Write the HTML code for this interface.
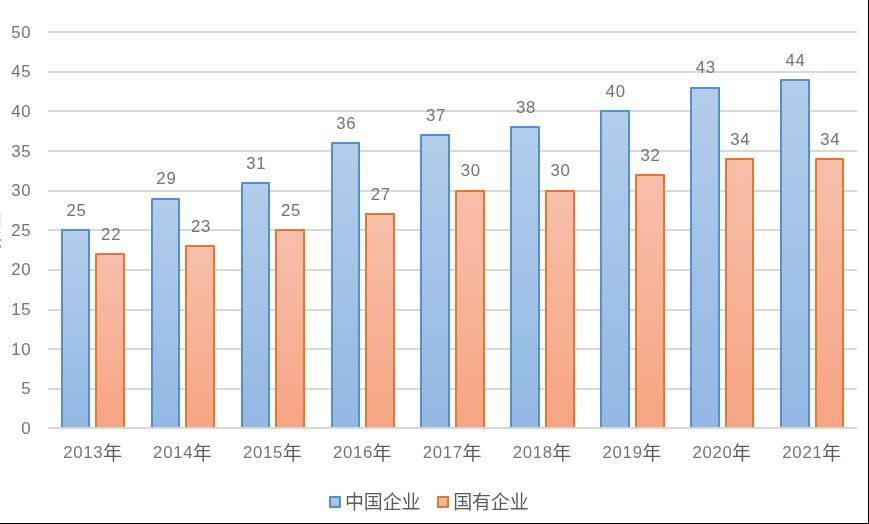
<!DOCTYPE html>
<html><head><meta charset="utf-8"><title>chart</title>
<style>
html,body{margin:0;padding:0;background:#fff;}
body{width:869px;height:524px;overflow:hidden;position:relative;}
svg{position:absolute;left:0;top:0;display:block;will-change:transform;}
text{font-family:"Liberation Sans",sans-serif;font-size:16.8px;fill:#737373;letter-spacing:0.7px;}
text.cjk{font-family:"Liberation Sans","Noto Sans CJK SC",sans-serif;font-size:19px;fill:#5c5c5c;letter-spacing:0;}
</style></head><body>
<svg width="869" height="524" viewBox="0 0 869 524">
<defs>
<linearGradient id="gb" x1="0" y1="0" x2="0" y2="1"><stop offset="0" stop-color="#b3cdea"/><stop offset="1" stop-color="#92b8e4"/></linearGradient>
<linearGradient id="go" x1="0" y1="0" x2="0" y2="1"><stop offset="0" stop-color="#f7bfab"/><stop offset="1" stop-color="#f6a582"/></linearGradient>
<linearGradient id="gb2" x1="0" y1="0" x2="0" y2="1"><stop offset="0" stop-color="#b0cbe9"/><stop offset="1" stop-color="#9dbfe6"/></linearGradient>
<linearGradient id="go2" x1="0" y1="0" x2="0" y2="1"><stop offset="0" stop-color="#f7bda8"/><stop offset="1" stop-color="#f6ad8e"/></linearGradient>
</defs>
<rect x="0" y="0" width="869" height="524" fill="#ffffff"/>
<rect x="48" y="388" width="809" height="2" fill="#d9d9d9"/>
<rect x="48" y="348" width="809" height="2" fill="#d9d9d9"/>
<rect x="48" y="309" width="809" height="2" fill="#d9d9d9"/>
<rect x="48" y="269" width="809" height="2" fill="#d9d9d9"/>
<rect x="48" y="229" width="809" height="2" fill="#d9d9d9"/>
<rect x="48" y="190" width="809" height="2" fill="#d9d9d9"/>
<rect x="48" y="150" width="809" height="2" fill="#d9d9d9"/>
<rect x="48" y="110" width="809" height="2" fill="#d9d9d9"/>
<rect x="48" y="71" width="809" height="2" fill="#d9d9d9"/>
<rect x="48" y="31" width="809" height="2" fill="#d9d9d9"/>
<rect x="62" y="230" width="27" height="198" fill="url(#gb)" stroke="#5291cf" stroke-width="2" stroke-linejoin="round"/>
<rect x="96" y="254" width="28" height="174" fill="url(#go)" stroke="#e9762a" stroke-width="2" stroke-linejoin="round"/>
<rect x="152" y="199" width="27" height="229" fill="url(#gb)" stroke="#5291cf" stroke-width="2" stroke-linejoin="round"/>
<rect x="186" y="246" width="28" height="182" fill="url(#go)" stroke="#e9762a" stroke-width="2" stroke-linejoin="round"/>
<rect x="242" y="183" width="27" height="245" fill="url(#gb)" stroke="#5291cf" stroke-width="2" stroke-linejoin="round"/>
<rect x="276" y="230" width="28" height="198" fill="url(#go)" stroke="#e9762a" stroke-width="2" stroke-linejoin="round"/>
<rect x="332" y="143" width="27" height="285" fill="url(#gb)" stroke="#5291cf" stroke-width="2" stroke-linejoin="round"/>
<rect x="366" y="214" width="28" height="214" fill="url(#go)" stroke="#e9762a" stroke-width="2" stroke-linejoin="round"/>
<rect x="421" y="135" width="28" height="293" fill="url(#gb)" stroke="#5291cf" stroke-width="2" stroke-linejoin="round"/>
<rect x="456" y="191" width="28" height="237" fill="url(#go)" stroke="#e9762a" stroke-width="2" stroke-linejoin="round"/>
<rect x="511" y="127" width="28" height="301" fill="url(#gb)" stroke="#5291cf" stroke-width="2" stroke-linejoin="round"/>
<rect x="546" y="191" width="28" height="237" fill="url(#go)" stroke="#e9762a" stroke-width="2" stroke-linejoin="round"/>
<rect x="601" y="111" width="28" height="317" fill="url(#gb)" stroke="#5291cf" stroke-width="2" stroke-linejoin="round"/>
<rect x="636" y="175" width="28" height="253" fill="url(#go)" stroke="#e9762a" stroke-width="2" stroke-linejoin="round"/>
<rect x="691" y="88" width="28" height="340" fill="url(#gb)" stroke="#5291cf" stroke-width="2" stroke-linejoin="round"/>
<rect x="726" y="159" width="27" height="269" fill="url(#go)" stroke="#e9762a" stroke-width="2" stroke-linejoin="round"/>
<rect x="781" y="80" width="28" height="348" fill="url(#gb)" stroke="#5291cf" stroke-width="2" stroke-linejoin="round"/>
<rect x="816" y="159" width="27" height="269" fill="url(#go)" stroke="#e9762a" stroke-width="2" stroke-linejoin="round"/>
<text x="76.50" y="216" text-anchor="middle">25</text>
<text x="111.15" y="240" text-anchor="middle">22</text>
<text x="166.39" y="184" text-anchor="middle">29</text>
<text x="201.04" y="232" text-anchor="middle">23</text>
<text x="256.28" y="169" text-anchor="middle">31</text>
<text x="290.93" y="216" text-anchor="middle">25</text>
<text x="346.17" y="129" text-anchor="middle">36</text>
<text x="380.82" y="200" text-anchor="middle">27</text>
<text x="436.06" y="121" text-anchor="middle">37</text>
<text x="470.71" y="176" text-anchor="middle">30</text>
<text x="525.94" y="113" text-anchor="middle">38</text>
<text x="560.59" y="176" text-anchor="middle">30</text>
<text x="615.83" y="97" text-anchor="middle">40</text>
<text x="650.48" y="161" text-anchor="middle">32</text>
<text x="705.72" y="73" text-anchor="middle">43</text>
<text x="740.37" y="145" text-anchor="middle">34</text>
<text x="795.61" y="66" text-anchor="middle">44</text>
<text x="830.26" y="145" text-anchor="middle">34</text>
<rect x="48" y="427" width="809" height="2" fill="#d9d9d9"/>
<text x="31.30" y="434" text-anchor="end">0</text>
<text x="31.30" y="394" text-anchor="end">5</text>
<text x="31.30" y="355" text-anchor="end">10</text>
<text x="31.30" y="315" text-anchor="end">15</text>
<text x="31.30" y="275" text-anchor="end">20</text>
<text x="31.30" y="236" text-anchor="end">25</text>
<text x="31.30" y="196" text-anchor="end">30</text>
<text x="31.30" y="157" text-anchor="end">35</text>
<text x="31.30" y="117" text-anchor="end">40</text>
<text x="31.30" y="77" text-anchor="end">45</text>
<text x="31.30" y="38" text-anchor="end">50</text>
<text x="63.23" y="458">2013</text>
<text class="cjk" x="102.89" y="459.6">年</text>
<text x="153.12" y="458">2014</text>
<text class="cjk" x="192.78" y="459.6">年</text>
<text x="243.01" y="458">2015</text>
<text class="cjk" x="282.67" y="459.6">年</text>
<text x="332.89" y="458">2016</text>
<text class="cjk" x="372.56" y="459.6">年</text>
<text x="422.78" y="458">2017</text>
<text class="cjk" x="462.45" y="459.6">年</text>
<text x="512.67" y="458">2018</text>
<text class="cjk" x="552.34" y="459.6">年</text>
<text x="602.56" y="458">2019</text>
<text class="cjk" x="642.22" y="459.6">年</text>
<text x="692.45" y="458">2020</text>
<text class="cjk" x="732.11" y="459.6">年</text>
<text x="782.34" y="458">2021</text>
<text class="cjk" x="822.00" y="459.6">年</text>
<rect x="330" y="497" width="10" height="10" fill="url(#gb2)" stroke="#5291cf" stroke-width="2" stroke-linejoin="round"/>
<text class="cjk" x="345" y="508.6" textLength="75.5" lengthAdjust="spacing">中国企业</text>
<rect x="438" y="497" width="10" height="10" fill="url(#go2)" stroke="#e9762a" stroke-width="2" stroke-linejoin="round"/>
<text class="cjk" x="453.2" y="508.6" textLength="75.5" lengthAdjust="spacing">国有企业</text>
<rect x="0" y="213" width="1" height="16" fill="#ededed"/>
<rect x="0" y="232" width="1" height="1" fill="#d0d0d0"/>
<rect x="0" y="239" width="1" height="2" fill="#9a9a9a"/>
<rect x="0" y="245" width="1" height="3" fill="#a8a8a8"/>
<rect x="868" y="0" width="1" height="524" fill="#000"/>
<rect x="0" y="523" width="869" height="1" fill="#000"/>
</svg>
</body></html>
